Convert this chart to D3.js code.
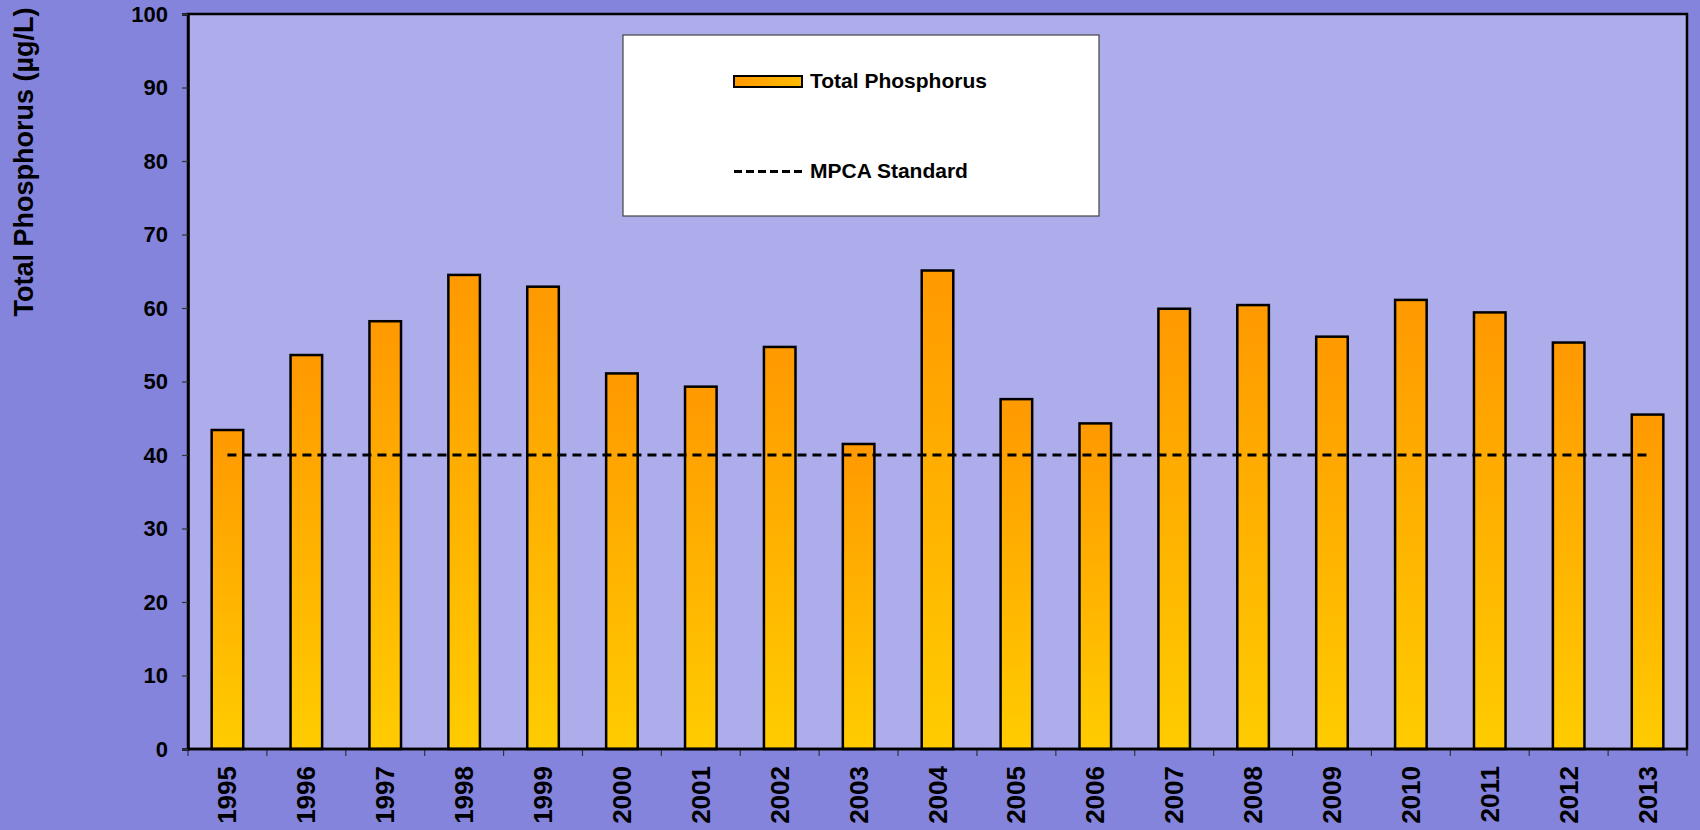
<!DOCTYPE html>
<html>
<head>
<meta charset="utf-8">
<script src="https://cdn.jsdelivr.net/npm/d3@7"></script>
<style>
  html, body { margin: 0; padding: 0; background: #8484DC; }
  svg { display: block; }
  text { font-family: "Liberation Sans", Arial, sans-serif; font-weight: bold; fill: #000; }
</style>
</head>
<body>
<svg id="chart" width="1700" height="830"></svg>
<script>
// ---- data ----
const years = ["1995","1996","1997","1998","1999","2000","2001","2002","2003","2004","2005","2006","2007","2008","2009","2010","2011","2012","2013"];
const totalPhosphorus = [43.4, 53.6, 58.2, 64.5, 62.9, 51.1, 49.3, 54.7, 41.5, 65.1, 47.6, 44.3, 59.9, 60.4, 56.1, 61.1, 59.4, 55.3, 45.5];
const mpcaStandard = [40,40,40,40,40,40,40,40,40,40,40,40,40,40,40,40,40,40,40];
const yTicks = [0,10,20,30,40,50,60,70,80,90,100];
const seriesNames = ["Total Phosphorus", "MPCA Standard"];
const yTitle = "Total Phosphorus (\u00b5g/L)";

// ---- layout ----
const svg = d3.select("#chart");
const L = 188, R = 1687, T = 14, B = 749;

svg.append("rect").attr("x",0).attr("y",0).attr("width",1700).attr("height",830).attr("fill","#8484DC");

const defs = svg.append("defs");
const grad = defs.append("linearGradient").attr("id","barGrad")
  .attr("x1","0").attr("y1","0").attr("x2","0").attr("y2","1");
grad.append("stop").attr("offset","0%").attr("stop-color","#FF9900");
grad.append("stop").attr("offset","100%").attr("stop-color","#FFCC00");
const gradL = defs.append("linearGradient").attr("id","legGrad")
  .attr("x1","0").attr("y1","0").attr("x2","1").attr("y2","0");
gradL.append("stop").attr("offset","0%").attr("stop-color","#FF9900");
gradL.append("stop").attr("offset","100%").attr("stop-color","#FFBB00");

const x = d3.scaleBand().domain(years).range([L, R]).paddingInner(0.6).paddingOuter(0.3);
const y = d3.scaleLinear().domain([0, 100]).range([B, T]);

// plot area
svg.append("rect").attr("x",L).attr("y",T).attr("width",R-L).attr("height",B-T)
  .attr("fill","#ADADEB");

// bars
svg.append("g").selectAll("rect").data(years).join("rect")
  .attr("x", d => x(d))
  .attr("y", (d,i) => y(totalPhosphorus[i]))
  .attr("width", x.bandwidth())
  .attr("height", (d,i) => y(0) - y(totalPhosphorus[i]))
  .attr("fill","url(#barGrad)")
  .attr("stroke","#000").attr("stroke-width",2.5);

// MPCA standard line
const line = d3.line().x((d,i) => x(years[i]) + x.bandwidth()/2).y(d => y(d));
svg.append("path").datum(mpcaStandard)
  .attr("d", line).attr("fill","none")
  .attr("stroke","#000").attr("stroke-width",3).attr("stroke-dasharray","9,6");

// plot border
svg.append("rect").attr("x",L).attr("y",T).attr("width",R-L).attr("height",B-T)
  .attr("fill","none").attr("stroke","#000").attr("stroke-width",2.5);

// y axis
const yAxis = svg.append("g").attr("transform",`translate(${L},0)`)
  .call(d3.axisLeft(y).tickValues(yTicks).tickSize(6).tickPadding(14));
yAxis.select(".domain").attr("stroke","#000").attr("stroke-width",2.5);
yAxis.selectAll(".tick line").attr("stroke","#333").attr("stroke-width",1.2);
yAxis.selectAll(".tick text").style("font-size","22px").style("font-family","'Liberation Sans', Arial, sans-serif").style("font-weight","bold").attr("fill","#000");

// x axis: boundary ticks and rotated labels
const half = (x.step() - x.bandwidth())/2;
const bounds = years.map(d => x(d) - half).concat([x(years[years.length-1]) + x.bandwidth() + half]);
svg.append("g").selectAll("line").data(bounds).join("line")
  .attr("x1", d => d).attr("x2", d => d).attr("y1", B).attr("y2", B+7)
  .attr("stroke","#333").attr("stroke-width",1.2);
svg.append("line").attr("x1",L).attr("x2",R).attr("y1",B).attr("y2",B).attr("stroke","#000").attr("stroke-width",2.5);
svg.append("g").selectAll("text").data(years).join("text")
  .attr("transform", d => `translate(${x(d)+x.bandwidth()/2},${B+17}) rotate(-90)`)
  .attr("text-anchor","end").attr("dominant-baseline","central")
  .style("font-size","26px")
  .text(d => d);

// y title
svg.append("text")
  .attr("transform","translate(24,162) rotate(-90)")
  .attr("text-anchor","middle").attr("dominant-baseline","central")
  .style("font-size","27px")
  .text(yTitle);

// legend
const lg = svg.append("g");
lg.append("rect").attr("x",623).attr("y",35).attr("width",476).attr("height",181)
  .attr("fill","#fff").attr("stroke","#444").attr("stroke-width",1.2);
lg.append("rect").attr("x",734).attr("y",76).attr("width",68).attr("height",11)
  .attr("fill","url(#legGrad)").attr("stroke","#000").attr("stroke-width",2);
lg.append("text").attr("x",810).attr("y",88).style("font-size","21px").text(seriesNames[0]);
lg.append("line").attr("x1",734).attr("x2",802).attr("y1",171.5).attr("y2",171.5)
  .attr("stroke","#000").attr("stroke-width",3).attr("stroke-dasharray","8,4");
lg.append("text").attr("x",810).attr("y",177.5).style("font-size","21px").text(seriesNames[1]);
</script>
</body>
</html>
